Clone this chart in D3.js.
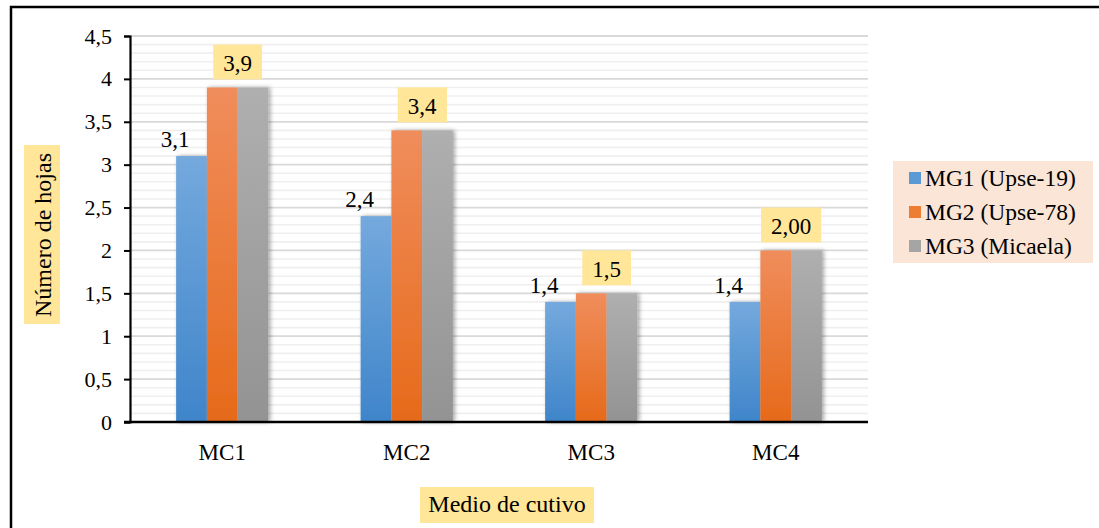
<!DOCTYPE html>
<html>
<head>
<meta charset="utf-8">
<script src="https://cdn.jsdelivr.net/npm/d3@7"></script>
<style>
  html, body { margin: 0; padding: 0; background: #fff; }
</style>
</head>
<body>
<svg id="chart" width="1099" height="528"></svg>
<script>
// Número de hojas por medio de cultivo y genotipo
const categories = ["MC1", "MC2", "MC3", "MC4"];
const seriesNames = ["MG1 (Upse-19)", "MG2 (Upse-78)", "MG3 (Micaela)"];
const mg1 = [3.1, 2.4, 1.4, 1.4];
const mg2 = [3.9, 3.4, 1.5, 2.0];
const mg3 = [3.9, 3.4, 1.5, 2.0];
const mg2Labels = ["3,9", "3,4", "1,5", "2,00"];
const yTicks = [0, 0.5, 1, 1.5, 2, 2.5, 3, 3.5, 4, 4.5];
const yTickLabels = ["0", "0,5", "1", "1,5", "2", "2,5", "3", "3,5", "4", "4,5"];
const yAxisTitle = "Número de hojas";
const xAxisTitle = "Medio de cutivo";

const FONT = "Liberation Serif";
const svg = d3.select("#chart");
const plot = { left: 130, right: 868, top: 36, bottom: 422 };

// outer frame
svg.append("rect")
  .attr("x", 11).attr("y", 7).attr("width", 1100).attr("height", 540)
  .attr("fill", "#fff").attr("stroke", "#000").attr("stroke-width", 2.5);

const defs = svg.append("defs");
const grads = [
  { id: "gBlue", top: "#74a9dd", bottom: "#3f85ca" },
  { id: "gOrange", top: "#f08d5c", bottom: "#e66a1a" },
  { id: "gGray", top: "#afafaf", bottom: "#939393" }
];
grads.forEach(g => {
  const lg = defs.append("linearGradient").attr("id", g.id)
    .attr("x1", 0).attr("y1", 0).attr("x2", 0).attr("y2", 1);
  lg.append("stop").attr("offset", "0%").attr("stop-color", g.top);
  lg.append("stop").attr("offset", "100%").attr("stop-color", g.bottom);
});
const f = defs.append("filter").attr("id", "shadow")
  .attr("x", "-30%").attr("y", "-10%").attr("width", "160%").attr("height", "120%");
f.append("feDropShadow").attr("dx", 2).attr("dy", 0).attr("stdDeviation", 2.2)
  .attr("flood-color", "#000").attr("flood-opacity", 0.35);

const y = d3.scaleLinear().domain([0, 4.5]).range([plot.bottom, plot.top]);
const x0 = d3.scaleBand().domain(categories).range([plot.left, plot.right]).paddingInner(0.5).paddingOuter(0.25);
const x1 = d3.scaleBand().domain(seriesNames).range([0, x0.bandwidth()]);

// minor gridlines every 0.1
const minor = d3.range(0, 46).map(i => i / 10).filter(v => Math.abs(v * 2 - Math.round(v * 2)) > 1e-6);
svg.append("g").selectAll("line").data(minor).join("line")
  .attr("x1", plot.left).attr("x2", plot.right)
  .attr("y1", d => y(d)).attr("y2", d => y(d))
  .attr("stroke", "#efefef").attr("stroke-width", 1.6);
// major gridlines every 0.5
svg.append("g").selectAll("line").data(yTicks.slice(1)).join("line")
  .attr("x1", plot.left).attr("x2", plot.right)
  .attr("y1", d => y(d)).attr("y2", d => y(d))
  .attr("stroke", "#d9d9d9").attr("stroke-width", 1.8);

// bars
const seriesData = [mg1, mg2, mg3];
const fills = ["url(#gBlue)", "url(#gOrange)", "url(#gGray)"];
const barsG = svg.append("g").attr("filter", "url(#shadow)");
categories.forEach((c, i) => {
  seriesNames.forEach((s, j) => {
    barsG.append("rect")
      .attr("x", x0(c) + x1(s))
      .attr("y", y(seriesData[j][i]))
      .attr("width", x1.bandwidth())
      .attr("height", y(0) - y(seriesData[j][i]))
      .attr("fill", fills[j]);
  });
});

// y axis
const yAxis = d3.axisLeft(y).tickValues(yTicks).tickFormat((d, i) => yTickLabels[i]).tickSize(6).tickPadding(12);
const gy = svg.append("g").attr("transform", `translate(${plot.left},0)`).call(yAxis);
gy.select(".domain").attr("stroke", "#000").attr("stroke-width", 2.2);
gy.selectAll(".tick line").attr("stroke", "#000").attr("stroke-width", 2);
gy.selectAll(".tick text").style("font-family", FONT).style("font-size", "22px").attr("fill", "#000");

// baseline
svg.append("line").attr("x1", plot.left - 6).attr("x2", plot.right)
  .attr("y1", y(0)).attr("y2", y(0)).attr("stroke", "#000").attr("stroke-width", 2.4);

// x axis labels
const xAxis = d3.axisBottom(x0).tickSize(0).tickPadding(0);
const gx = svg.append("g").attr("transform", `translate(0,${plot.bottom})`).call(xAxis);
gx.select(".domain").remove();
gx.selectAll(".tick text").style("font-family", FONT).style("font-size", "23px").attr("fill", "#000")
  .attr("dy", 0).attr("y", 38);

// MG1 value labels
categories.forEach((c, i) => {
  svg.append("text")
    .attr("x", x0(c) + x1(seriesNames[0]) - 1)
    .attr("y", y(mg1[i]) - 9)
    .attr("text-anchor", "middle").style("font-family", FONT).style("font-size", "23px").attr("fill", "#000")
    .text(String(mg1[i]).replace(".", ","));
});
// MG2 value labels in yellow boxes
categories.forEach((c, i) => {
  const cx = x0(c) + x1(seriesNames[2]);
  const g = svg.append("g");
  const t = g.append("text")
    .attr("x", cx).attr("y", y(mg2[i]) - 16)
    .attr("text-anchor", "middle").style("font-family", FONT).style("font-size", "23px").attr("fill", "#000")
    .text(mg2Labels[i]);
  const bb = t.node().getBBox();
  g.insert("rect", "text")
    .attr("x", bb.x - 10).attr("width", bb.width + 20)
    .attr("y", y(mg2[i]) - 8 - 35).attr("height", 35)
    .attr("fill", "#ffe699");
});

// axis titles
const yt = svg.append("g");
yt.append("rect").attr("x", 24).attr("y", 145).attr("width", 36).attr("height", 179).attr("fill", "#ffe699");
yt.append("text").attr("transform", "translate(51,235) rotate(-90)")
  .attr("text-anchor", "middle").style("font-family", FONT).style("font-size", "24px").attr("fill", "#000").text(yAxisTitle);

const xt = svg.append("g");
xt.append("rect").attr("x", 420).attr("y", 487).attr("width", 174).attr("height", 36).attr("fill", "#ffe699");
xt.append("text").attr("x", 507).attr("y", 512)
  .attr("text-anchor", "middle").style("font-family", FONT).style("font-size", "24px").attr("fill", "#000").text(xAxisTitle);

// legend
const lg = svg.append("g");
lg.append("rect").attr("x", 893).attr("y", 161).attr("width", 200).attr("height", 102).attr("fill", "#fbe5d6");
const swatch = ["#5b9bd5", "#ed7d31", "#a5a5a5"];
seriesNames.forEach((s, j) => {
  const cy = 178 + j * 34;
  lg.append("rect").attr("x", 909).attr("y", cy - 6).attr("width", 12).attr("height", 12).attr("fill", swatch[j]);
  lg.append("text").attr("x", 925).attr("y", cy + 8).style("font-family", FONT).style("font-size", "23.5px")
    .attr("fill", "#000").text(s);
});
</script>
</body>
</html>
